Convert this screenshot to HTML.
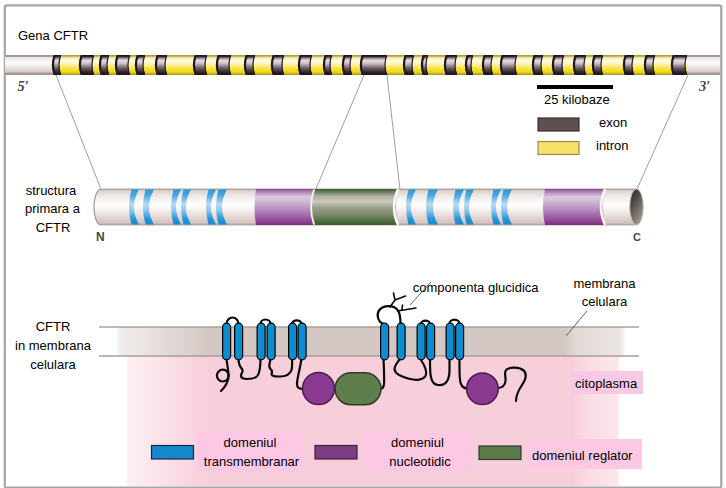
<!DOCTYPE html><html><head><meta charset="utf-8"><style>
html,body{margin:0;padding:0;background:#fff;width:726px;height:488px;overflow:hidden}
svg{display:block}
text{font-family:"Liberation Sans",sans-serif;font-size:13px;fill:#000}
.serif{font-family:"Liberation Serif",serif}
</style></head><body>
<svg width="726" height="488" viewBox="0 0 726 488">
<defs>
<linearGradient id="gWhite" x1="0" y1="0" x2="0" y2="1">
 <stop offset="0" stop-color="#9c9490"/><stop offset="0.09" stop-color="#a8a09c"/><stop offset="0.12" stop-color="#ebe5e2"/>
 <stop offset="0.4" stop-color="#fdfcfb"/><stop offset="0.85" stop-color="#d8ccc9"/><stop offset="0.9" stop-color="#a89c98"/><stop offset="1" stop-color="#9c9490"/>
</linearGradient>
<linearGradient id="gYel" x1="0" y1="0" x2="0" y2="1">
 <stop offset="0" stop-color="#a09040"/><stop offset="0.08" stop-color="#c8bc60"/><stop offset="0.14" stop-color="#f4eeb0"/>
 <stop offset="0.3" stop-color="#fffbe8"/><stop offset="0.45" stop-color="#fcf4b0"/><stop offset="0.65" stop-color="#f8e450"/><stop offset="0.86" stop-color="#f0d800"/><stop offset="0.93" stop-color="#c0b030"/><stop offset="1" stop-color="#989048"/>
</linearGradient>
<linearGradient id="gDark" x1="0" y1="0" x2="0" y2="1">
 <stop offset="0" stop-color="#1c1014"/><stop offset="0.07" stop-color="#2a1e24"/><stop offset="0.15" stop-color="#8a7e86"/>
 <stop offset="0.26" stop-color="#e2dae2"/><stop offset="0.4" stop-color="#d4c8d0"/><stop offset="0.66" stop-color="#6a5c64"/><stop offset="0.86" stop-color="#2e2228"/><stop offset="1" stop-color="#1c1014"/>
</linearGradient>
<linearGradient id="gCyl" x1="0" y1="0" x2="0" y2="1">
 <stop offset="0" stop-color="#a09490"/><stop offset="0.05" stop-color="#ded4d0"/><stop offset="0.25" stop-color="#f4f0ee"/>
 <stop offset="0.45" stop-color="#ffffff"/><stop offset="0.7" stop-color="#ece2de"/><stop offset="0.95" stop-color="#d0c2be"/><stop offset="1" stop-color="#a09490"/>
</linearGradient>
<linearGradient id="gPur" x1="0" y1="0" x2="0" y2="1">
 <stop offset="0" stop-color="#804888"/><stop offset="0.06" stop-color="#a878b0"/><stop offset="0.22" stop-color="#dccce0"/>
 <stop offset="0.35" stop-color="#d0b8d4"/><stop offset="0.55" stop-color="#b890c0"/><stop offset="0.8" stop-color="#9a58a2"/><stop offset="1" stop-color="#7a3080"/>
</linearGradient>
<linearGradient id="gGrn" x1="0" y1="0" x2="0" y2="1">
 <stop offset="0" stop-color="#3a5a30"/><stop offset="0.05" stop-color="#5a7050"/><stop offset="0.2" stop-color="#b0b0a0"/>
 <stop offset="0.35" stop-color="#cdc8bc"/><stop offset="0.5" stop-color="#a0a290"/><stop offset="0.72" stop-color="#7a8a68"/><stop offset="0.9" stop-color="#4a6a3c"/><stop offset="1" stop-color="#3a5a30"/>
</linearGradient>
<linearGradient id="gBlue" x1="0" y1="0" x2="0" y2="1">
 <stop offset="0" stop-color="#2a98d8"/><stop offset="0.15" stop-color="#44a6de"/><stop offset="0.42" stop-color="#b8dcf4"/><stop offset="0.6" stop-color="#8cc6ec"/><stop offset="0.85" stop-color="#2494d6"/><stop offset="1" stop-color="#1a8cd0"/>
</linearGradient>
<linearGradient id="gEnd" x1="0.2" y1="0" x2="0.8" y2="1">
 <stop offset="0" stop-color="#302626"/><stop offset="0.5" stop-color="#6a605c"/><stop offset="1" stop-color="#aaa29e"/>
</linearGradient>
<linearGradient id="gMemb" gradientUnits="userSpaceOnUse" x1="117" y1="0" x2="626" y2="0">
 <stop offset="0" stop-color="#d4c8c4" stop-opacity="0"/><stop offset="0.004" stop-color="#d4c8c4" stop-opacity="0.3"/><stop offset="0.18" stop-color="#d4c8c4" stop-opacity="1"/>
 <stop offset="0.88" stop-color="#d4c8c4" stop-opacity="1"/><stop offset="0.9" stop-color="#d4c8c4" stop-opacity="0.7"/><stop offset="0.99" stop-color="#d4c8c4" stop-opacity="0.45"/><stop offset="1" stop-color="#d4c8c4" stop-opacity="0"/>
</linearGradient>
<linearGradient id="gPink" gradientUnits="userSpaceOnUse" x1="127" y1="0" x2="620" y2="0">
 <stop offset="0" stop-color="#f7cfda" stop-opacity="0.3"/><stop offset="0.16" stop-color="#f7cfda" stop-opacity="1"/>
 <stop offset="0.903" stop-color="#f7cfda" stop-opacity="1"/><stop offset="0.933" stop-color="#f7cfda" stop-opacity="0.75"/><stop offset="0.995" stop-color="#f7cfda" stop-opacity="0.5"/><stop offset="1" stop-color="#f7cfda" stop-opacity="0"/>
</linearGradient>
</defs>

<rect x="4.8" y="5.3" width="716.5" height="482.3" rx="2" fill="none" stroke="#a6a6a6" stroke-width="2.2"/>
<text x="18" y="40">Gena CFTR</text>
<rect x="5" y="55" width="715" height="20" fill="url(#gWhite)"/>
<rect x="54" y="55" width="633" height="20" fill="url(#gYel)"/>
<path d="M54 55 Q50.5 65.0 54 75 L61 75 Q57.5 65.0 61 55 Z" fill="url(#gDark)" />
<path d="M54.7 55.5 Q51.2 65 54.7 74.5" fill="none" stroke="#22161c" stroke-width="2.2"/>
<path d="M60.7 55.5 Q57.2 65 60.7 74.5" fill="none" stroke="#2a1e24" stroke-width="1.2"/>
<path d="M81 55 Q77.5 65.0 81 75 L94 75 Q90.5 65.0 94 55 Z" fill="url(#gDark)" />
<path d="M81.7 55.5 Q78.2 65 81.7 74.5" fill="none" stroke="#22161c" stroke-width="2.2"/>
<path d="M93.7 55.5 Q90.2 65 93.7 74.5" fill="none" stroke="#2a1e24" stroke-width="1.2"/>
<path d="M101 55 Q97.5 65.0 101 75 L109 75 Q105.5 65.0 109 55 Z" fill="url(#gDark)" />
<path d="M101.7 55.5 Q98.2 65 101.7 74.5" fill="none" stroke="#22161c" stroke-width="2.2"/>
<path d="M108.7 55.5 Q105.2 65 108.7 74.5" fill="none" stroke="#2a1e24" stroke-width="1.2"/>
<path d="M117 55 Q113.5 65.0 117 75 L130 75 Q126.5 65.0 130 55 Z" fill="url(#gDark)" />
<path d="M117.7 55.5 Q114.2 65 117.7 74.5" fill="none" stroke="#22161c" stroke-width="2.2"/>
<path d="M129.7 55.5 Q126.2 65 129.7 74.5" fill="none" stroke="#2a1e24" stroke-width="1.2"/>
<path d="M137 55 Q133.5 65.0 137 75 L145 75 Q141.5 65.0 145 55 Z" fill="url(#gDark)" />
<path d="M137.7 55.5 Q134.2 65 137.7 74.5" fill="none" stroke="#22161c" stroke-width="2.2"/>
<path d="M144.7 55.5 Q141.2 65 144.7 74.5" fill="none" stroke="#2a1e24" stroke-width="1.2"/>
<path d="M157 55 Q153.5 65.0 157 75 L167 75 Q163.5 65.0 167 55 Z" fill="url(#gDark)" />
<path d="M157.7 55.5 Q154.2 65 157.7 74.5" fill="none" stroke="#22161c" stroke-width="2.2"/>
<path d="M166.7 55.5 Q163.2 65 166.7 74.5" fill="none" stroke="#2a1e24" stroke-width="1.2"/>
<path d="M195 55 Q191.5 65.0 195 75 L207 75 Q203.5 65.0 207 55 Z" fill="url(#gDark)" />
<path d="M195.7 55.5 Q192.2 65 195.7 74.5" fill="none" stroke="#22161c" stroke-width="2.2"/>
<path d="M206.7 55.5 Q203.2 65 206.7 74.5" fill="none" stroke="#2a1e24" stroke-width="1.2"/>
<path d="M218 55 Q214.5 65.0 218 75 L231 75 Q227.5 65.0 231 55 Z" fill="url(#gDark)" />
<path d="M218.7 55.5 Q215.2 65 218.7 74.5" fill="none" stroke="#22161c" stroke-width="2.2"/>
<path d="M230.7 55.5 Q227.2 65 230.7 74.5" fill="none" stroke="#2a1e24" stroke-width="1.2"/>
<path d="M246 55 Q242.5 65.0 246 75 L255 75 Q251.5 65.0 255 55 Z" fill="url(#gDark)" />
<path d="M246.7 55.5 Q243.2 65 246.7 74.5" fill="none" stroke="#22161c" stroke-width="2.2"/>
<path d="M254.7 55.5 Q251.2 65 254.7 74.5" fill="none" stroke="#2a1e24" stroke-width="1.2"/>
<path d="M273 55 Q269.5 65.0 273 75 L284 75 Q280.5 65.0 284 55 Z" fill="url(#gDark)" />
<path d="M273.7 55.5 Q270.2 65 273.7 74.5" fill="none" stroke="#22161c" stroke-width="2.2"/>
<path d="M283.7 55.5 Q280.2 65 283.7 74.5" fill="none" stroke="#2a1e24" stroke-width="1.2"/>
<path d="M300 55 Q296.5 65.0 300 75 L312 75 Q308.5 65.0 312 55 Z" fill="url(#gDark)" />
<path d="M300.7 55.5 Q297.2 65 300.7 74.5" fill="none" stroke="#22161c" stroke-width="2.2"/>
<path d="M311.7 55.5 Q308.2 65 311.7 74.5" fill="none" stroke="#2a1e24" stroke-width="1.2"/>
<path d="M325 55 Q321.5 65.0 325 75 L332 75 Q328.5 65.0 332 55 Z" fill="url(#gDark)" />
<path d="M325.7 55.5 Q322.2 65 325.7 74.5" fill="none" stroke="#22161c" stroke-width="2.2"/>
<path d="M331.7 55.5 Q328.2 65 331.7 74.5" fill="none" stroke="#2a1e24" stroke-width="1.2"/>
<path d="M344 55 Q340.5 65.0 344 75 L352 75 Q348.5 65.0 352 55 Z" fill="url(#gDark)" />
<path d="M344.7 55.5 Q341.2 65 344.7 74.5" fill="none" stroke="#22161c" stroke-width="2.2"/>
<path d="M351.7 55.5 Q348.2 65 351.7 74.5" fill="none" stroke="#2a1e24" stroke-width="1.2"/>
<path d="M362 55 Q358.5 65.0 362 75 L387 75 Q383.5 65.0 387 55 Z" fill="url(#gDark)" />
<path d="M362.7 55.5 Q359.2 65 362.7 74.5" fill="none" stroke="#22161c" stroke-width="2.2"/>
<path d="M386.7 55.5 Q383.2 65 386.7 74.5" fill="none" stroke="#2a1e24" stroke-width="1.2"/>
<path d="M405 55 Q401.5 65.0 405 75 L414 75 Q410.5 65.0 414 55 Z" fill="url(#gDark)" />
<path d="M405.7 55.5 Q402.2 65 405.7 74.5" fill="none" stroke="#22161c" stroke-width="2.2"/>
<path d="M413.7 55.5 Q410.2 65 413.7 74.5" fill="none" stroke="#2a1e24" stroke-width="1.2"/>
<path d="M423 55 Q419.5 65.0 423 75 L428 75 Q424.5 65.0 428 55 Z" fill="url(#gDark)" />
<path d="M423.7 55.5 Q420.2 65 423.7 74.5" fill="none" stroke="#22161c" stroke-width="2.2"/>
<path d="M427.7 55.5 Q424.2 65 427.7 74.5" fill="none" stroke="#2a1e24" stroke-width="1.2"/>
<path d="M446 55 Q442.5 65.0 446 75 L457 75 Q453.5 65.0 457 55 Z" fill="url(#gDark)" />
<path d="M446.7 55.5 Q443.2 65 446.7 74.5" fill="none" stroke="#22161c" stroke-width="2.2"/>
<path d="M456.7 55.5 Q453.2 65 456.7 74.5" fill="none" stroke="#2a1e24" stroke-width="1.2"/>
<path d="M467 55 Q463.5 65.0 467 75 L473 75 Q469.5 65.0 473 55 Z" fill="url(#gDark)" />
<path d="M467.7 55.5 Q464.2 65 467.7 74.5" fill="none" stroke="#22161c" stroke-width="2.2"/>
<path d="M472.7 55.5 Q469.2 65 472.7 74.5" fill="none" stroke="#2a1e24" stroke-width="1.2"/>
<path d="M484 55 Q480.5 65.0 484 75 L493 75 Q489.5 65.0 493 55 Z" fill="url(#gDark)" />
<path d="M484.7 55.5 Q481.2 65 484.7 74.5" fill="none" stroke="#22161c" stroke-width="2.2"/>
<path d="M492.7 55.5 Q489.2 65 492.7 74.5" fill="none" stroke="#2a1e24" stroke-width="1.2"/>
<path d="M502 55 Q498.5 65.0 502 75 L517 75 Q513.5 65.0 517 55 Z" fill="url(#gDark)" />
<path d="M502.7 55.5 Q499.2 65 502.7 74.5" fill="none" stroke="#22161c" stroke-width="2.2"/>
<path d="M516.7 55.5 Q513.2 65 516.7 74.5" fill="none" stroke="#2a1e24" stroke-width="1.2"/>
<path d="M534 55 Q530.5 65.0 534 75 L543 75 Q539.5 65.0 543 55 Z" fill="url(#gDark)" />
<path d="M534.7 55.5 Q531.2 65 534.7 74.5" fill="none" stroke="#22161c" stroke-width="2.2"/>
<path d="M542.7 55.5 Q539.2 65 542.7 74.5" fill="none" stroke="#2a1e24" stroke-width="1.2"/>
<path d="M554 55 Q550.5 65.0 554 75 L564 75 Q560.5 65.0 564 55 Z" fill="url(#gDark)" />
<path d="M554.7 55.5 Q551.2 65 554.7 74.5" fill="none" stroke="#22161c" stroke-width="2.2"/>
<path d="M563.7 55.5 Q560.2 65 563.7 74.5" fill="none" stroke="#2a1e24" stroke-width="1.2"/>
<path d="M575 55 Q571.5 65.0 575 75 L586 75 Q582.5 65.0 586 55 Z" fill="url(#gDark)" />
<path d="M575.7 55.5 Q572.2 65 575.7 74.5" fill="none" stroke="#22161c" stroke-width="2.2"/>
<path d="M585.7 55.5 Q582.2 65 585.7 74.5" fill="none" stroke="#2a1e24" stroke-width="1.2"/>
<path d="M594 55 Q590.5 65.0 594 75 L603 75 Q599.5 65.0 603 55 Z" fill="url(#gDark)" />
<path d="M594.7 55.5 Q591.2 65 594.7 74.5" fill="none" stroke="#22161c" stroke-width="2.2"/>
<path d="M602.7 55.5 Q599.2 65 602.7 74.5" fill="none" stroke="#2a1e24" stroke-width="1.2"/>
<path d="M625 55 Q621.5 65.0 625 75 L634 75 Q630.5 65.0 634 55 Z" fill="url(#gDark)" />
<path d="M625.7 55.5 Q622.2 65 625.7 74.5" fill="none" stroke="#22161c" stroke-width="2.2"/>
<path d="M633.7 55.5 Q630.2 65 633.7 74.5" fill="none" stroke="#2a1e24" stroke-width="1.2"/>
<path d="M646 55 Q642.5 65.0 646 75 L655 75 Q651.5 65.0 655 55 Z" fill="url(#gDark)" />
<path d="M646.7 55.5 Q643.2 65 646.7 74.5" fill="none" stroke="#22161c" stroke-width="2.2"/>
<path d="M654.7 55.5 Q651.2 65 654.7 74.5" fill="none" stroke="#2a1e24" stroke-width="1.2"/>
<path d="M673 55 Q669.5 65.0 673 75 L687 75 Q683.5 65.0 687 55 Z" fill="url(#gDark)" />
<path d="M673.7 55.5 Q670.2 65 673.7 74.5" fill="none" stroke="#22161c" stroke-width="2.2"/>
<path d="M686.7 55.5 Q683.2 65 686.7 74.5" fill="none" stroke="#2a1e24" stroke-width="1.2"/>
<text class="serif" x="17.5" y="91" style="font-style:italic;font-weight:bold;fill:#484848;font-size:14.5px">5′</text>
<text class="serif" x="699" y="90.7" style="font-style:italic;font-weight:bold;fill:#484848;font-size:14.5px">3′</text>
<g stroke="#a0a0a0" stroke-width="1" fill="none"><path d="M56 75 L100.5 188"/><path d="M364 75 L315.5 190"/><path d="M387 75 L400 190"/><path d="M688 75 L637 189"/></g>
<rect x="537" y="85" width="76" height="4" fill="#000"/>
<text x="544" y="104">25 kilobaze</text>
<rect x="538" y="118" width="41" height="13" fill="#5e5050" stroke="#3a3030" stroke-width="1.2"/>
<text x="599" y="127">exon</text>
<rect x="538" y="141.5" width="41" height="13" fill="#f8e068" stroke="#9a8a50" stroke-width="1.2"/>
<text x="596" y="150">intron</text>
<text x="51" y="195" text-anchor="middle">structura</text>
<text x="52.5" y="213" text-anchor="middle">primara a</text>
<text x="53" y="232" text-anchor="middle">CFTR</text>
<path d="M101 189 L637 189 L637 225 L101 225 A7 18 0 0 1 101 189 Z" fill="url(#gCyl)"/>
<path d="M101 189 A7 18 0 0 0 101 225" fill="none" stroke="#a09894" stroke-width="1.2"/>
<line x1="101" y1="189" x2="637" y2="189" stroke="#b0a6a2" stroke-width="1"/>
<line x1="101" y1="225" x2="637" y2="225" stroke="#b8aeaa" stroke-width="1"/>
<path d="M131.5 189.5 Q126.5 207 131.5 224.5 L139 224.5 Q129 207 139 189.5 Z" fill="url(#gBlue)"/>
<path d="M145.5 189.5 Q140.5 207 145.5 224.5 L154 224.5 Q144 207 154 189.5 Z" fill="url(#gBlue)"/>
<path d="M173.5 189.5 Q168.5 207 173.5 224.5 L181 224.5 Q171 207 181 189.5 Z" fill="url(#gBlue)"/>
<path d="M183.5 189.5 Q178.5 207 183.5 224.5 L191 224.5 Q181 207 191 189.5 Z" fill="url(#gBlue)"/>
<path d="M208.5 189.5 Q203.5 207 208.5 224.5 L216 224.5 Q206 207 216 189.5 Z" fill="url(#gBlue)"/>
<path d="M218.5 189.5 Q213.5 207 218.5 224.5 L227 224.5 Q217 207 227 189.5 Z" fill="url(#gBlue)"/>
<path d="M408.5 189.5 Q403.5 207 408.5 224.5 L416 224.5 Q406 207 416 189.5 Z" fill="url(#gBlue)"/>
<path d="M428.5 189.5 Q423.5 207 428.5 224.5 L438 224.5 Q428 207 438 189.5 Z" fill="url(#gBlue)"/>
<path d="M455.5 189.5 Q450.5 207 455.5 224.5 L464 224.5 Q454 207 464 189.5 Z" fill="url(#gBlue)"/>
<path d="M466.5 189.5 Q461.5 207 466.5 224.5 L474 224.5 Q464 207 474 189.5 Z" fill="url(#gBlue)"/>
<path d="M493.5 189.5 Q488.5 207 493.5 224.5 L501 224.5 Q491 207 501 189.5 Z" fill="url(#gBlue)"/>
<path d="M503.5 189.5 Q498.5 207 503.5 224.5 L512 224.5 Q502 207 512 189.5 Z" fill="url(#gBlue)"/>
<path d="M256 189 Q253 207.0 256 225 L314 225 Q311 207.0 314 189 Z" fill="url(#gPur)" />
<path d="M545 189 Q541 207.0 545 225 L605 225 Q601 207.0 605 189 Z" fill="url(#gPur)" />
<path d="M315 189 Q309 207 315 225 L398 225 Q394 207 398 189 Z" fill="url(#gGrn)"/>
<path d="M314 189.5 Q308 207 314 224.5" fill="none" stroke="#f4f0ee" stroke-width="1.8"/>
<path d="M398 189 Q390 207 398 225" fill="none" stroke="#f8f4f2" stroke-width="2.5"/>
<path d="M605 189 Q597 207 605 225" fill="none" stroke="#f8f4f2" stroke-width="2.5"/>
<ellipse cx="636.5" cy="207" rx="6.8" ry="18" fill="url(#gEnd)" stroke="#c8c0bc" stroke-width="1"/>
<text x="96" y="240.8" style="font-weight:bold;font-size:12px;fill:#484848">N</text>
<text x="633" y="240.8" style="font-weight:bold;font-size:11px;fill:#484848">C</text>
<rect x="127" y="356" width="493" height="130" fill="url(#gPink)"/>
<rect x="117" y="327" width="509" height="29" fill="url(#gMemb)"/>
<line x1="99" y1="327" x2="639" y2="327" stroke="#aaa09e" stroke-width="1.5"/>
<line x1="99" y1="356" x2="639" y2="356" stroke="#aa9c9a" stroke-width="1.5"/>
<text x="53" y="331" text-anchor="middle">CFTR</text>
<text x="53" y="350" text-anchor="middle">in membrana</text>
<text x="53" y="369" text-anchor="middle">celulara</text>
<text x="604.5" y="287.8" text-anchor="middle">membrana</text>
<text x="604.5" y="306.2" text-anchor="middle">celulara</text>
<line x1="587" y1="311" x2="566" y2="336" stroke="#606060" stroke-width="1"/>
<rect x="570" y="371" width="73" height="23" fill="#f8c8e4"/>
<text x="575" y="387.5">citoplasma</text>
<text x="412.8" y="292">componenta glucidica</text>
<line x1="410" y1="305" x2="431" y2="282" stroke="#606060" stroke-width="1"/>
<g fill="none" stroke="#0a0a0a" stroke-width="2.2" stroke-linecap="round" stroke-linejoin="round">
<path d="M226.5 324 A6 6.5 0 0 1 238.5 324"/>
<path d="M260.5 324 A5 4.5 0 0 1 270.5 324"/>
<path d="M292 324 A4.75 3.6 0 0 1 301.5 324"/>
<path d="M421 324 A4.5 3.4 0 0 1 430 324"/>
<path d="M449.5 324 A5 4.4 0 0 1 459.5 324"/>
<path d="M383.5 324 C377.5 322 376.5 314 379 310.5 C383 305 394 304.5 398 310.5 C400.5 314 400.5 319 400.5 324"/>
<path stroke-width="1.6" d="M390 307 L395 300 L393.5 293 M395 300 L405.5 296 M397.5 311 L416 308 M402 310 L402.5 305"/>
<path d="M226.5 358 C227 365 228.5 370 228.5 376 C228.5 383 225 387 221 391"/>
<circle cx="222.8" cy="375.6" r="5.9"/>
<path d="M238.5 358 C238.5 363 239 366 242 369 C244 371.5 241 373 241 375.5 C241 378 243 379 247 379 C252 379 256 378.5 258 375 C260 371 260.5 366 260.5 358"/>
<path d="M270.5 358 C270.5 363 267.5 366 270.5 369 C273 371 272 373 271.5 374 C272 377 276 376.5 280 376.5 C286 376.5 290 374.5 291.5 370 C292.5 367 292 362 292 358"/>
<path d="M301.5 358 C300 370 297 378 297 384 C297 388 299 389 303 389"/>
<path d="M383.5 358 C384 372 384.5 380 384 384 C383.5 388 382 389 380 389"/>
<path d="M400.5 358 C398 362 394.5 365 394.5 369 C394.5 374 402 377 410 379 C416 380.5 423 380 425.5 376 C427.5 372 425 366 421 360"/>
<path d="M430 358 C430 372 429.5 384 438 385 C446 386 449.5 380 449.5 370 L449.5 358"/>
<path d="M459.5 358 C459.5 372 459 380 461 384 C462.5 388 465 388.5 468 388.5"/>
<path d="M497 388 C502 388 505 386 505.5 381 C506 376 503.5 372 506.5 369.5 C510 367 519 367 523 370 C527.5 373.5 526 379 522 385 C518 391 516 395 516 401"/>
</g>
<rect x="222.6" y="323.2" width="8" height="36.6" rx="4" ry="4" fill="#0e8cd0" stroke="#000" stroke-width="1.2"/>
<rect x="234.6" y="323.2" width="8" height="36.6" rx="4" ry="4" fill="#0e8cd0" stroke="#000" stroke-width="1.2"/>
<rect x="257.1" y="323.2" width="8" height="36.6" rx="4" ry="4" fill="#0e8cd0" stroke="#000" stroke-width="1.2"/>
<rect x="267.1" y="323.2" width="8" height="36.6" rx="4" ry="4" fill="#0e8cd0" stroke="#000" stroke-width="1.2"/>
<rect x="288.6" y="323.2" width="8" height="36.6" rx="4" ry="4" fill="#0e8cd0" stroke="#000" stroke-width="1.2"/>
<rect x="298.1" y="323.2" width="8" height="36.6" rx="4" ry="4" fill="#0e8cd0" stroke="#000" stroke-width="1.2"/>
<rect x="380.6" y="323.2" width="8" height="36.6" rx="4" ry="4" fill="#0e8cd0" stroke="#000" stroke-width="1.2"/>
<rect x="397.1" y="323.2" width="8" height="36.6" rx="4" ry="4" fill="#0e8cd0" stroke="#000" stroke-width="1.2"/>
<rect x="417.1" y="323.2" width="8" height="36.6" rx="4" ry="4" fill="#0e8cd0" stroke="#000" stroke-width="1.2"/>
<rect x="426.6" y="323.2" width="8" height="36.6" rx="4" ry="4" fill="#0e8cd0" stroke="#000" stroke-width="1.2"/>
<rect x="446.1" y="323.2" width="8" height="36.6" rx="4" ry="4" fill="#0e8cd0" stroke="#000" stroke-width="1.2"/>
<rect x="455.6" y="323.2" width="8" height="36.6" rx="4" ry="4" fill="#0e8cd0" stroke="#000" stroke-width="1.2"/>
<circle cx="318.5" cy="388.6" r="16" fill="#8a3a90" stroke="#4a1a50" stroke-width="1.5"/>
<rect x="335" y="372.8" width="46" height="32" rx="16" ry="16" fill="#5e7e4c" stroke="#2e3a26" stroke-width="1.5"/>
<circle cx="482.4" cy="388.8" r="15.8" fill="#8a3a90" stroke="#4a1a50" stroke-width="1.5"/>
<rect x="197" y="432" width="106.5" height="40.3" fill="#fcc8e4"/>
<rect x="363" y="432" width="108" height="39" fill="#fcc8e4"/>
<rect x="526" y="439" width="116" height="30" fill="#fcc8e4"/>
<rect x="151.5" y="445.5" width="42" height="13.5" fill="#1488cc" stroke="#224" stroke-width="1.2"/>
<rect x="315" y="445.5" width="42" height="13.5" fill="#7e3c84" stroke="#402040" stroke-width="1.2"/>
<rect x="479" y="446" width="42" height="13.5" fill="#5a7a4a" stroke="#303830" stroke-width="1.2"/>
<text x="250" y="447" text-anchor="middle">domeniul</text>
<text x="251.5" y="466" text-anchor="middle">transmembranar</text>
<text x="417.5" y="447" text-anchor="middle">domeniul</text>
<text x="420" y="466" text-anchor="middle">nucleotidic</text>
<text x="532" y="460">domeniul reglator</text>
</svg></body></html>
